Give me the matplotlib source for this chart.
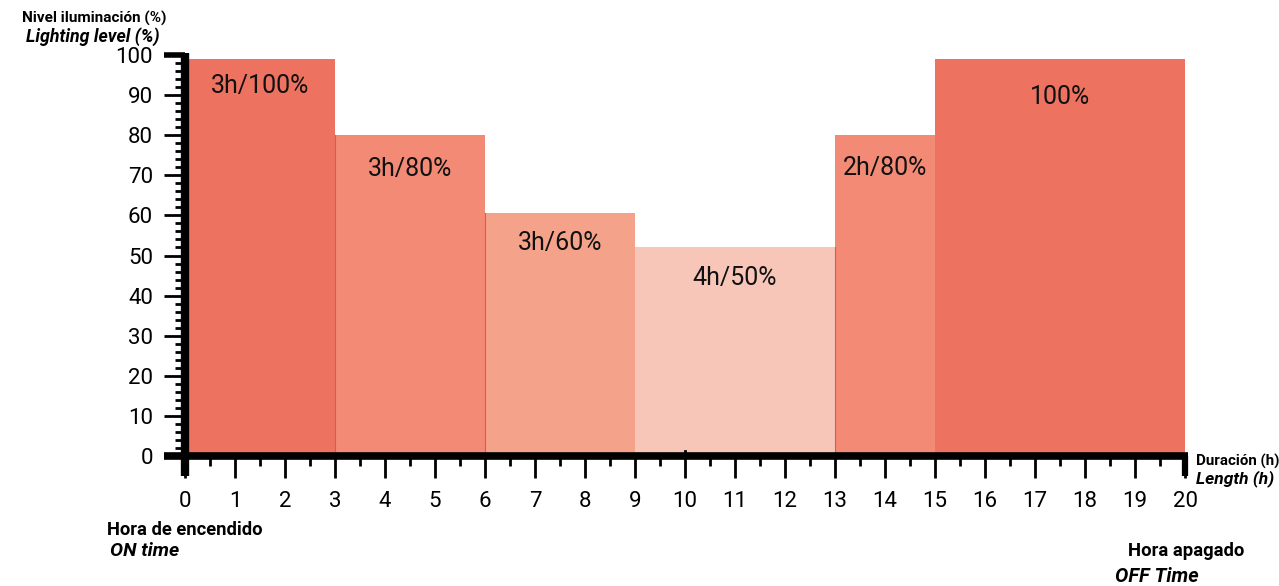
import matplotlib
matplotlib.use("Agg")
import matplotlib.pyplot as plt
from matplotlib.ticker import MultipleLocator

plt.rcParams["font.family"] = ["Roboto", "DejaVu Sans"]

# Data: lighting schedule (start hour, duration, level as drawn)
starts = [0, 3, 6, 9, 13, 15]
durations = [3, 3, 3, 4, 2, 5]
levels = [99, 80, 60.5, 52, 80, 99]
labels = ["3h/100%", "3h/80%", "3h/60%", "4h/50%", "2h/80%", "100%"]
label_drop = [6.8, 8.4, 7.3, 7.5, 8.2, 9.4]
colors = ["#EE7260", "#F28A76", "#F4A28A", "#F7C6B8", "#F28A76", "#EE7260"]
seams = [3, 6, 13]

fig = plt.figure(figsize=(12.79, 5.86), dpi=100)
ax = fig.add_axes([185 / 1279, 130 / 586, 1000 / 1279, 401 / 586])
ax.set_xlim(0, 20)
ax.set_ylim(0, 100)

ax.bar(starts, levels, width=durations, align="edge", color=colors, linewidth=0, zorder=1)

# thin red seams where a bar meets its neighbour
for i in range(1, len(starts)):
    if starts[i] in seams:
        top = min(levels[i], levels[i - 1])
        ax.plot([starts[i], starts[i]], [0, top], color="#F5503F", lw=0.8, zorder=2)

for s, d, h, lab, dr in zip(starts, durations, levels, labels, label_drop):
    ax.text(s + d / 2, h - dr, lab, ha="center", va="center", fontsize=18, color="#111111")

# axes styling
for side in ["top", "right", "left", "bottom"]:
    ax.spines[side].set_visible(False)

ax.xaxis.set_major_locator(MultipleLocator(1))
ax.xaxis.set_minor_locator(MultipleLocator(0.5))
ax.yaxis.set_major_locator(MultipleLocator(10))
ax.yaxis.set_minor_locator(MultipleLocator(2))
ax.tick_params(axis="x", which="major", length=16, width=2, pad=9, labelsize=16, direction="out")
ax.tick_params(axis="x", which="minor", length=7, width=2, direction="out")
ax.tick_params(axis="y", which="major", length=15, width=2, pad=8, labelsize=16, direction="out")
ax.tick_params(axis="y", which="minor", length=7, width=2, direction="out")

# thick axis lines drawn as extended spines
ax.plot([0, 0], [-5, 100.5], color="black", lw=6, solid_capstyle="butt", clip_on=False, zorder=5)
ax.plot([-0.43, 20.05], [0, 0], color="black", lw=5.5, solid_capstyle="butt", clip_on=False, zorder=5)
ax.plot([20, 20], [0, -5], color="black", lw=4.5, solid_capstyle="butt", clip_on=False, zorder=5)
ax.plot([-0.42, 0], [100, 100], color="black", lw=4, solid_capstyle="butt", clip_on=False, zorder=5)
ax.plot([10, 10], [0, 1.3], color="black", lw=2, clip_on=False, zorder=5)

# axis titles
fig.text(22 / 1279, 1 - 18 / 586, "Nivel iluminación (%)", fontsize=11, fontweight="bold",
         ha="left", va="center")
fig.text(26 / 1279, 1 - 37 / 586, "Lighting level (%)", fontsize=12.8, fontweight="bold",
         style="italic", ha="left", va="center")
fig.text(1196 / 1279, 1 - 461 / 586, "Duración (h)", fontsize=10.9, fontweight="bold",
         ha="left", va="center")
fig.text(1196 / 1279, 1 - 479 / 586, "Length (h)", fontsize=12.5, fontweight="bold",
         style="italic", ha="left", va="center")
fig.text(107 / 1279, 1 - 530 / 586, "Hora de encendido", fontsize=13.2, fontweight="bold",
         ha="left", va="center")
fig.text(110 / 1279, 1 - 551 / 586, "ON time", fontsize=14, fontweight="bold",
         style="italic", ha="left", va="center")
fig.text(1128 / 1279, 1 - 551 / 586, "Hora apagado", fontsize=13.3, fontweight="bold",
         ha="left", va="center")
fig.text(1115 / 1279, 1 - 576 / 586, "OFF Time", fontsize=14.3, fontweight="bold",
         style="italic", ha="left", va="center")

fig.savefig("out.png", dpi=100, facecolor="white")
